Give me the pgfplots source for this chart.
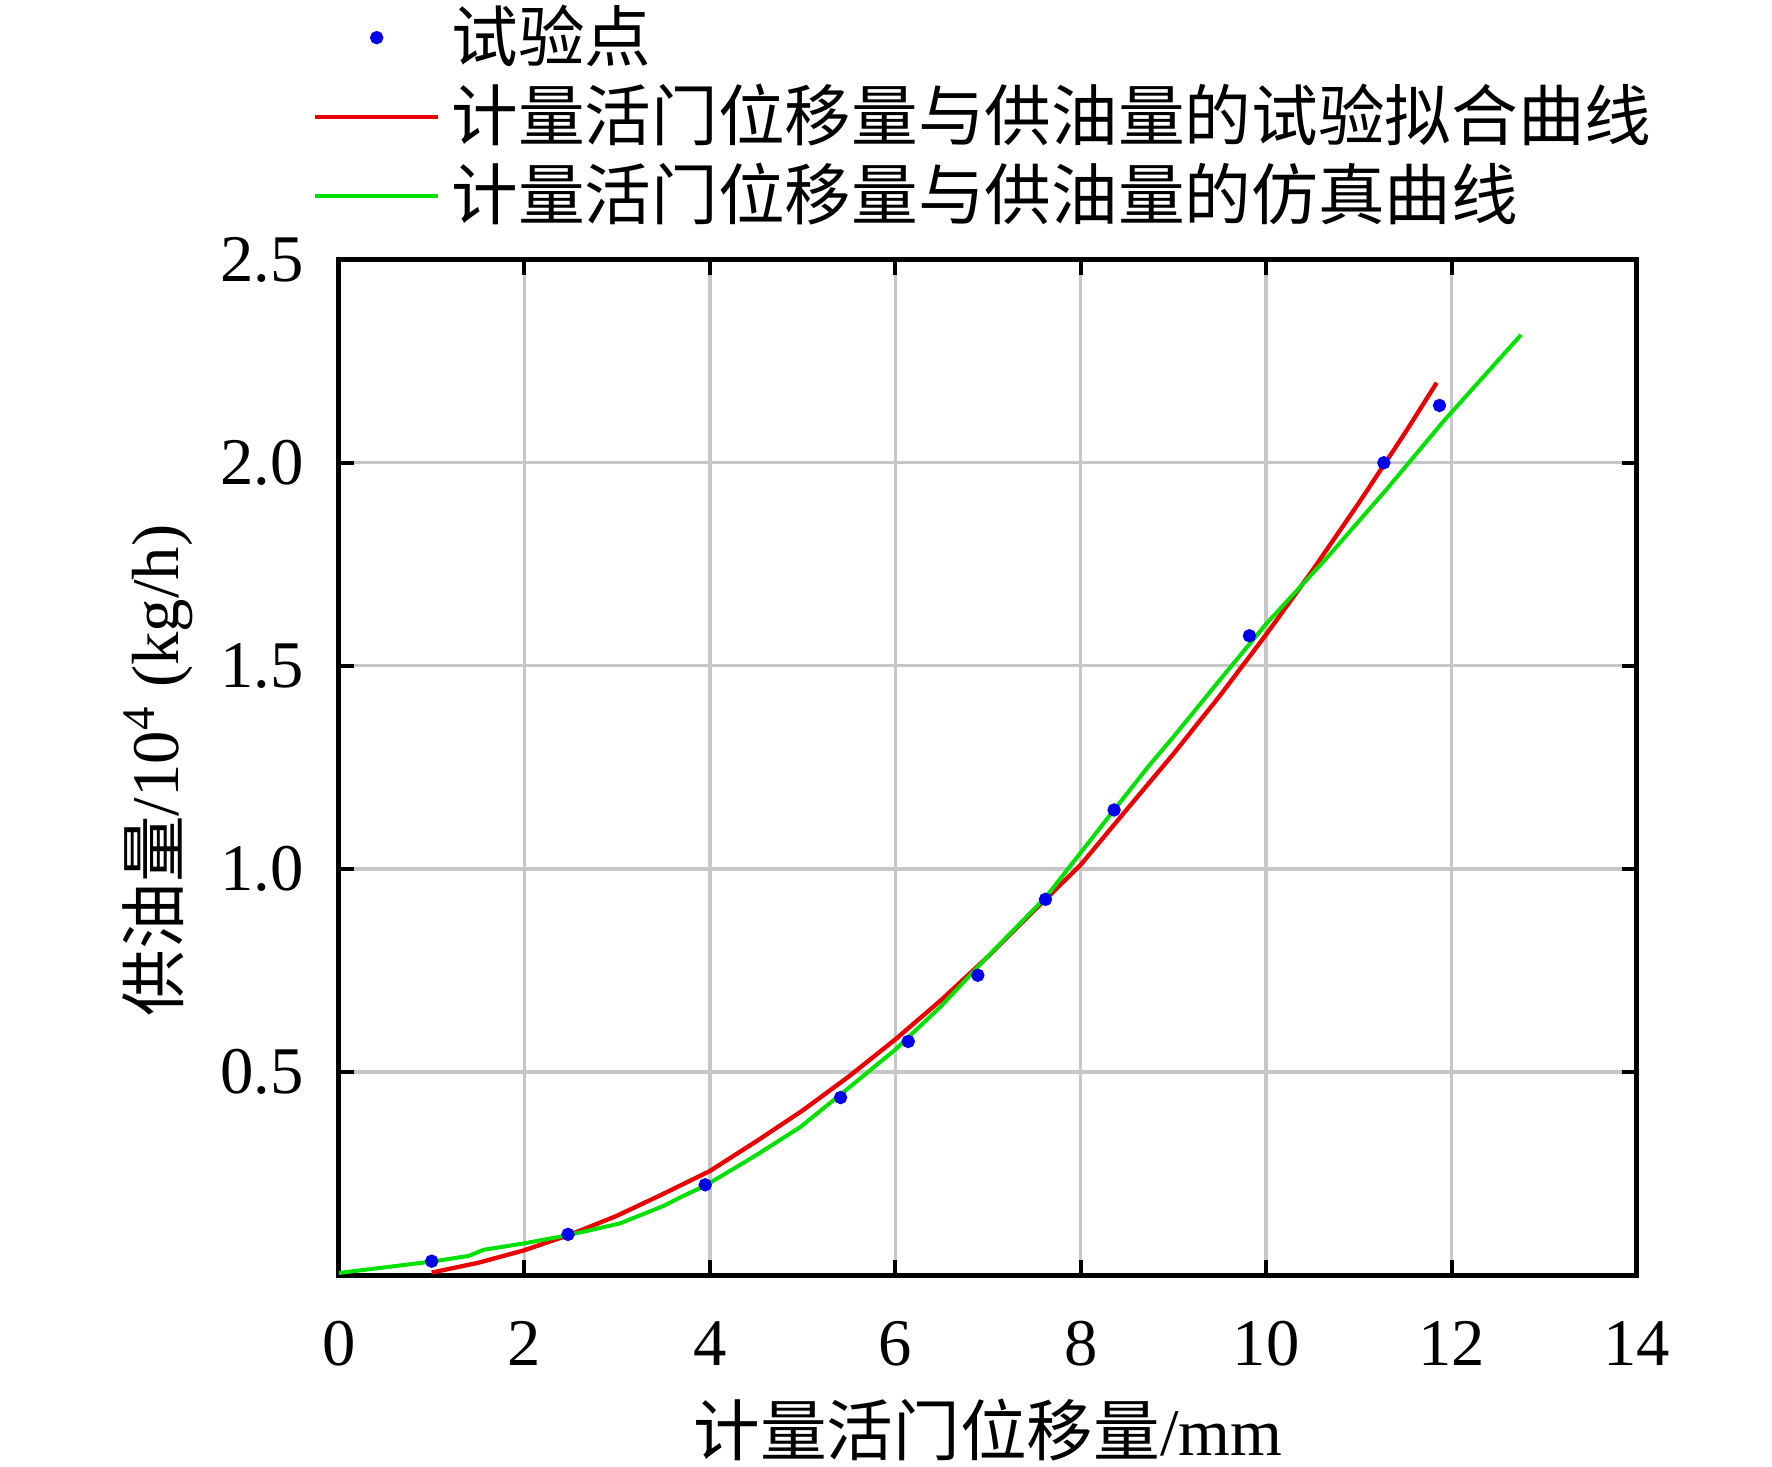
\documentclass[border=0pt]{standalone}
\usepackage{fontspec}
\setmainfont{Liberation Serif}
\newfontfamily\cjk{Noto Sans CJK SC}
\usepackage{pgfplots}
\pgfplotsset{compat=1.18}
\definecolor{myred}{RGB}{235,0,0}
\definecolor{mygreen}{RGB}{0,225,0}
\definecolor{myblue}{RGB}{0,0,235}
\begin{document}
\begin{tikzpicture}
\path[use as bounding box] (-50.85pt,-28.8pt) rectangle (214.95pt,191.25pt);
\begin{axis}[
  at={(0,0)}, anchor=south west,
  scale only axis=true,
  width=194.7pt, height=152.3pt,
  xmin=0, xmax=14, ymin=0, ymax=2.5,
  xtick={0,2,4,6,8,10,12,14},
  ytick={0.5,1,1.5,2,2.5},
  /pgf/number format/assume math mode=true,
  yticklabel style={/pgf/number format/fixed, /pgf/number format/precision=1, /pgf/number format/fixed zerofill, inner sep=0pt, xshift=-5.1pt},
  xticklabel style={inner sep=0pt, yshift=-6.75pt},
  axis line style={line width=0.75pt, black},
  major tick length=2.25pt,
  tick style={line width=0.6pt, black},
  tick align=inside,
  grid=major,
  major grid style={line width=0.5pt, black!22},
  xlabel={{\cjk 计量活门位移量}/mm},
  ylabel={{\cjk 供油量}/10\textsuperscript{4} (kg/h)},
  xlabel style={at={(axis description cs:0.5,-0.1527)}, anchor=center, inner sep=0pt},
  ylabel style={at={(axis description cs:-0.1394,0.497)}, anchor=center, inner sep=0pt},
  legend style={draw=none, fill=none, at={(axis description cs:-0.02,1.2515)}, anchor=north west,
    inner sep=0pt, outer sep=0pt, row sep=1.85pt, column sep=1.65pt,
    nodes={inner sep=0pt, text height=8.5pt, text depth=1.5pt, font=\cjk}},
  legend cell align=left,
  legend image code/.code={\draw[mark repeat=2,mark phase=2,#1] plot coordinates {(0pt,0pt) (9.225pt,0pt) (18.45pt,0pt)};},
]
\addplot[only marks, mark=*, mark size=0.8pt, color=myblue] coordinates {
(1.00,0.034) (2.47,0.100) (3.95,0.222) (5.41,0.437) (6.14,0.575) (6.89,0.738)
(7.62,0.925) (8.36,1.145) (9.82,1.574) (11.27,2.000) (11.87,2.141)
};
\addlegendentry{试验点}
\addplot[color=myred, line width=0.65pt] coordinates {
(1.0,0.006) (1.5,0.030) (2.0,0.061) (2.5,0.100) (3.0,0.146) (3.5,0.200)
(4.0,0.256) (4.5,0.329) (5.0,0.405) (5.5,0.489) (6.0,0.580) (6.5,0.678)
(7.0,0.784) (7.5,0.898) (8.0,1.010) (8.5,1.147) (9.0,1.283) (9.5,1.426)
(10.0,1.577) (10.5,1.735) (11.0,1.901) (11.5,2.074) (11.84,2.197)
};
\addlegendentry{计量活门位移量与供油量的试验拟合曲线}
\addplot[color=mygreen, line width=0.6pt] coordinates {
(0,0.005) (0.5,0.019) (1.0,0.033) (1.4,0.047) (1.56,0.062) (2.0,0.078)
(2.47,0.098) (2.8,0.115) (3.03,0.127) (3.5,0.170) (3.68,0.191) (3.95,0.220)
(4.5,0.295) (4.98,0.365) (5.51,0.463) (6.0,0.555) (6.49,0.661) (7.0,0.785)
(7.63,0.932) (8.0,1.040) (8.37,1.148) (8.74,1.255) (9.0,1.325) (9.5,1.465)
(10.0,1.603) (10.64,1.762) (11.29,1.932) (11.92,2.104) (12.75,2.315)
};
\addlegendentry{计量活门位移量与供油量的仿真曲线}
\end{axis}
\end{tikzpicture}
\end{document}
